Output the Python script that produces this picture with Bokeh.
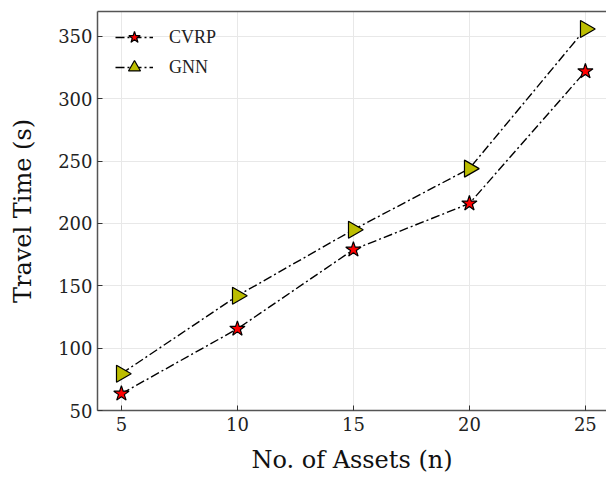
import math
from bokeh.plotting import figure
from bokeh.models import (ColumnDataSource, Legend, LegendItem, Range1d, FixedTicker,
                          LinearAxis)
from bokeh.embed import file_html
from bokeh.resources import INLINE

assets = [5, 10, 15, 20, 25]
cvrp = [63.5, 115.5, 179, 216, 322]
gnn = [79.5, 142, 195, 244, 356]
x_ticks = [5, 10, 15, 20, 25]
y_ticks = [50, 100, 150, 200, 250, 300, 350]

p = figure(width=606, height=477, output_backend="svg", toolbar_location=None,
           x_range=Range1d(3.97, 25.91), y_range=Range1d(50, 370),
           min_border_left=97, min_border_right=0, min_border_top=11, min_border_bottom=67)

src = ColumnDataSource(dict(x=assets, c=cvrp, g=gnn))

dash = "9 3 2 3"
l1 = p.line("x", "c", source=src, line_color="black", line_width=1.4, line_dash=dash)
m1 = p.scatter("x", "c", source=src, marker="star", size=16, fill_color="#ff0000",
               line_color="black", line_width=1.2)
l2 = p.line("x", "g", source=src, line_color="black", line_width=1.4, line_dash=dash)
m2 = p.scatter("x", "g", source=src, marker="triangle", size=17, angle=-math.pi / 2,
               fill_color="#bcbd00", line_color="black", line_width=1.2)

legend = Legend(items=[LegendItem(label="CVRP", renderers=[l1, m1]),
                       LegendItem(label="GNN", renderers=[l2, m2])],
                location=(18, 328))
legend.border_line_alpha = 0
legend.background_fill_alpha = 0
legend.label_text_font = "Liberation Serif"
legend.label_text_font_size = "18px"
legend.label_text_color = "#222222"
legend.glyph_width = 38
legend.glyph_height = 30
legend.label_height = 28
legend.label_standoff = 16
legend.spacing = 0
legend.margin = 0
legend.padding = 0
p.add_layout(legend)

for ax in (p.xaxis[0], p.yaxis[0]):
    ax.axis_line_color = "#555555"
    ax.axis_line_width = 1.5
    ax.major_tick_in = 5
    ax.major_tick_out = 0
    ax.minor_tick_line_color = None
    ax.major_tick_line_color = "#333333"
    ax.major_label_text_font = "DejaVu Serif"
    ax.major_label_text_font_size = "18px"
    ax.major_label_text_color = "#222222"
    ax.axis_label_text_font = "DejaVu Serif"
    ax.axis_label_text_font_size = "24px"
    ax.axis_label_text_font_style = "normal"
    ax.axis_label_text_color = "#111111"

p.xaxis[0].ticker = FixedTicker(ticks=x_ticks)
p.yaxis[0].ticker = FixedTicker(ticks=y_ticks)
p.xaxis.axis_label = "No. of Assets (n)"
p.yaxis.axis_label = "Travel Time (s)"
p.xaxis.major_label_standoff = 6
p.yaxis.major_label_standoff = 5
p.xaxis.axis_label_standoff = 12
p.yaxis.axis_label_standoff = 18

top_axis = LinearAxis(ticker=FixedTicker(ticks=[]), axis_line_color="#555555",
                      axis_line_width=1.5, major_tick_line_color=None,
                      minor_tick_line_color=None, major_label_text_font_size="0px",
                      major_label_standoff=0)
p.add_layout(top_axis, "above")

p.outline_line_color = None
p.xgrid.grid_line_color = "#e8e8e8"
p.ygrid.grid_line_color = "#e8e8e8"
p.background_fill_color = "white"
p.border_fill_color = "white"

open("out.html", "w").write(file_html(p, INLINE))
